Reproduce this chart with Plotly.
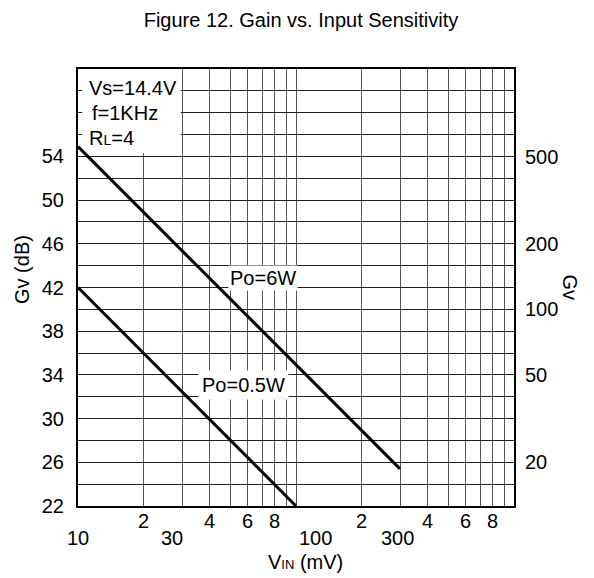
import math
import plotly.graph_objects as go

# ---- data ----
vin_6w = [10, 300]          # mV
gv_6w_db = [54.9, 25.4]     # dB
vin_05w = [10, 100]
gv_05w_db = [42.0, 22.0]

y_grid = list(range(22, 63, 2))
y_labels = [22, 26, 30, 34, 38, 42, 46, 50, 54]
gv_right = [20, 50, 100, 200, 500]
x_grid = [m * d for d in (10, 100) for m in range(1, 10)] + [1000]
x_upper_labels = [(20, "2"), (40, "4"), (60, "6"), (80, "8"),
                  (200, "2"), (400, "4"), (600, "6"), (800, "8")]
x_lower_labels = [(10, "10", 0), (30, "30", -10), (100, "100", 19), (300, "300", -3)]

# condition-text box extent (data units)
box_x = [10.45, 29.6]
box_y = [54.3, 62]

FONT = "Liberation Sans, Arial, sans-serif"

fig = go.Figure()
# white background box for the conditions text (drawn above grid, below curves)
fig.add_trace(go.Scatter(x=[box_x[0], box_x[1], box_x[1], box_x[0], box_x[0]],
                         y=[box_y[0], box_y[0], box_y[1], box_y[1], box_y[0]],
                         mode="lines", fill="toself", fillcolor="white",
                         line=dict(width=0, color="white"), showlegend=False,
                         hoverinfo="skip"))
fig.add_trace(go.Scatter(x=vin_6w, y=gv_6w_db, mode="lines",
                         line=dict(color="black", width=3), showlegend=False))
fig.add_trace(go.Scatter(x=vin_05w, y=gv_05w_db, mode="lines",
                         line=dict(color="black", width=3), showlegend=False))
# dummy trace for right axis
fig.add_trace(go.Scatter(x=[10], y=[22], yaxis="y2", mode="markers",
                         marker=dict(opacity=0), showlegend=False, hoverinfo="skip"))

fig.update_layout(
    width=586, height=570,
    margin=dict(l=70, r=80, t=61, b=72),
    paper_bgcolor="white", plot_bgcolor="white",
    font=dict(family=FONT, size=20, color="black"),
    title=dict(text="Figure 12. Gain vs. Input Sensitivity", x=0.5, xanchor="center",
               y=1 - 12 / 570, yanchor="middle", yref="container",
               font=dict(size=20)),
    xaxis=dict(type="log", range=[1, 3], tickvals=x_grid,
               ticktext=[""] * len(x_grid), showgrid=True, gridcolor="#555",
               gridwidth=1, showline=True, linecolor="black", linewidth=2,
               mirror=True, ticks="", zeroline=False),
    yaxis=dict(range=[22, 62], tickvals=y_grid,
               ticktext=[str(v) if v in y_labels else "" for v in y_grid],
               showgrid=True, gridcolor="#222", gridwidth=1, showline=True,
               linecolor="black", linewidth=2, mirror=True, ticks="",
               ticklabelstandoff=8, zeroline=False),
    yaxis2=dict(range=[22, 62], overlaying="y", side="right",
                tickvals=[20 * math.log10(g) for g in gv_right],
                ticktext=[str(g) for g in gv_right], showgrid=False,
                ticks="", ticklabelstandoff=10, zeroline=False, showline=False),
)

for i, t in enumerate(["Vs=14.4V", "f=1KHz",
                       "R<span style='font-size:14px'>L</span>=4"]):
    fig.add_annotation(xref="paper", yref="paper", x=0, xshift=(9 + (3 if i == 1 else 0)),
                       y=1, yshift=-(19 + 25 * i), xanchor="left", yanchor="middle",
                       text=t, showarrow=False, font=dict(size=20))

# curve labels
fig.add_annotation(x=math.log10(70.8), y=42.9, text="Po=6W", showarrow=False,
                   bgcolor="white", borderpad=1, font=dict(size=20))
fig.add_annotation(x=math.log10(57.6), y=33.05, text="Po=0.5W", showarrow=False,
                   bgcolor="white", borderpad=3, font=dict(size=20))

# x tick labels (staggered)
for v, t in x_upper_labels:
    fig.add_annotation(x=math.log10(v), xref="x", y=0, yref="paper", yshift=-15,
                       text=t, showarrow=False, yanchor="middle", font=dict(size=20))
for v, t, sh in x_lower_labels:
    fig.add_annotation(x=math.log10(v), xref="x", y=0, yref="paper", yshift=-32,
                       xshift=sh, text=t, showarrow=False, yanchor="middle",
                       font=dict(size=20))

# axis titles
fig.add_annotation(xref="paper", yref="paper", x=(305 - 78) / 436, y=0, yshift=-56,
                   text="V<span style='font-size:13px'>IN</span> (mV)",
                   showarrow=False, yanchor="middle", font=dict(size=20))
fig.add_annotation(xref="paper", yref="paper", x=0, xshift=-56, y=0.54,
                   text="Gv (dB)", textangle=-90, showarrow=False,
                   xanchor="center", yanchor="middle", font=dict(size=20))
fig.add_annotation(xref="paper", yref="paper", x=1, xshift=56, y=0.5,
                   text="Gv", textangle=90, showarrow=False,
                   xanchor="center", yanchor="middle", font=dict(size=20))

fig.write_html("out.html")
